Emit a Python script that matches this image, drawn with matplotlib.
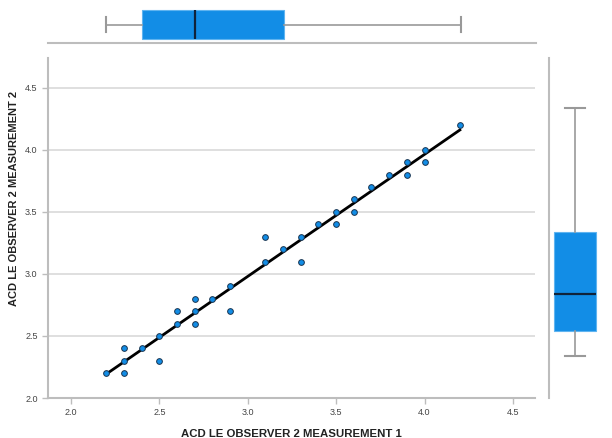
import numpy as np
import matplotlib
matplotlib.use('Agg')
import matplotlib.pyplot as plt

plt.rcParams['font.family'] = ['Liberation Sans', 'DejaVu Sans']

# Scatter data: observer 2, measurement 1 vs measurement 2
meas1 = [2.2, 2.3, 2.3, 2.3, 2.4, 2.5, 2.5, 2.6, 2.6, 2.7, 2.7, 2.7, 2.8, 2.9, 2.9,
         3.1, 3.1, 3.2, 3.3, 3.3, 3.4, 3.5, 3.5, 3.6, 3.6, 3.7, 3.8, 3.9, 3.9,
         4.0, 4.0, 4.2]
meas2 = [2.2, 2.4, 2.3, 2.2, 2.4, 2.5, 2.3, 2.7, 2.6, 2.8, 2.7, 2.6, 2.8, 2.9, 2.7,
         3.1, 3.3, 3.2, 3.3, 3.1, 3.4, 3.5, 3.4, 3.6, 3.5, 3.7, 3.8, 3.9, 3.8,
         4.0, 3.9, 4.2]

# Marginal box plot summaries (whisker low, Q1, median, Q3, whisker high)
box_x = dict(whislo=2.2, q1=2.4, med=2.7, q3=3.2, whishi=4.2)
box_y = dict(whislo=2.2, q1=2.4, med=2.7, q3=3.2, whishi=4.2)

ticks = [2.0, 2.5, 3.0, 3.5, 4.0, 4.5]

blue = '#128de6'
grid_c = '#d9d9d9'
spine_c = '#bdbdbd'

fig = plt.figure(figsize=(6.12, 4.38), dpi=100)

# main scatter
ax = fig.add_axes([48/612, 1 - 398/438, 487/612, 340/438])
ax.set_xlim(1.87, 4.625)
ax.set_ylim(2.0, 4.74)
ax.set_yticks(ticks)
ax.set_xticks(ticks)
ax.set_xticklabels([f'{t:.1f}' for t in ticks])
ax.set_yticklabels([f'{t:.1f}' for t in ticks])
ax.grid(axis='y', color=grid_c, linewidth=1.2)
ax.set_axisbelow(True)
for s in ['top', 'right']:
    ax.spines[s].set_visible(False)
for s in ['left', 'bottom']:
    ax.spines[s].set_color(spine_c)
    ax.spines[s].set_linewidth(1.5)
ax.tick_params(axis='both', colors=spine_c, labelcolor='#444444', labelsize=6.5,
               length=4, width=1)

slope, intercept = np.polyfit(meas1, meas2, 1)
xs = np.array([min(meas1), max(meas1)])
ax.plot(xs, slope * xs + intercept, color='black', linewidth=2, zorder=2)
ax.scatter(meas1, meas2, s=17, color=blue, edgecolor='#1a3550', linewidth=0.7, zorder=3)

ax.set_xlabel('ACD LE OBSERVER 2 MEASUREMENT 1', fontsize=8.2, fontweight='bold',
              color='#222222')
ax.xaxis.set_label_coords(0.499, -0.09)
ax.xaxis.label.set_va('top')
ax.set_ylabel('ACD LE OBSERVER 2 MEASUREMENT 2', fontsize=8, fontweight='bold',
              color='#222222')
ax.yaxis.set_label_coords(-0.07, 0.588)
ax.yaxis.label.set_va('center')

box_style = dict(patch_artist=True, showfliers=False,
                 boxprops=dict(facecolor=blue, edgecolor='#5fb4f0', linewidth=0.8),
                 medianprops=dict(color='#10233a', linewidth=1.6),
                 whiskerprops=dict(color='#999999', linewidth=1.2),
                 capprops=dict(color='#999999', linewidth=1.5))

# top marginal box plot
axt = fig.add_axes([48/612, 1 - 43/438, 488/612, 37/438])
axt.bxp([box_x], positions=[0.5], widths=[0.8], vert=False,
        capwidths=[0.38], **box_style)
axt.set_xlim(1.87, 4.625)
axt.set_ylim(0, 1)
axt.axis('off')
axt.axhline(0, color=spine_c, linewidth=1.5, clip_on=False)

# right marginal box plot
axr = fig.add_axes([549/612, 1 - 398/438, 56/612, 340/438])
axr.bxp([box_y], positions=[0.46], widths=[0.75], vert=True,
        capwidths=[0.36], **box_style)
axr.set_xlim(0, 1)
axr.set_ylim(1.86, 4.60)
axr.axis('off')
axr.axvline(0, color=spine_c, linewidth=1.5, clip_on=False)

fig.savefig('out.png', dpi=100)
